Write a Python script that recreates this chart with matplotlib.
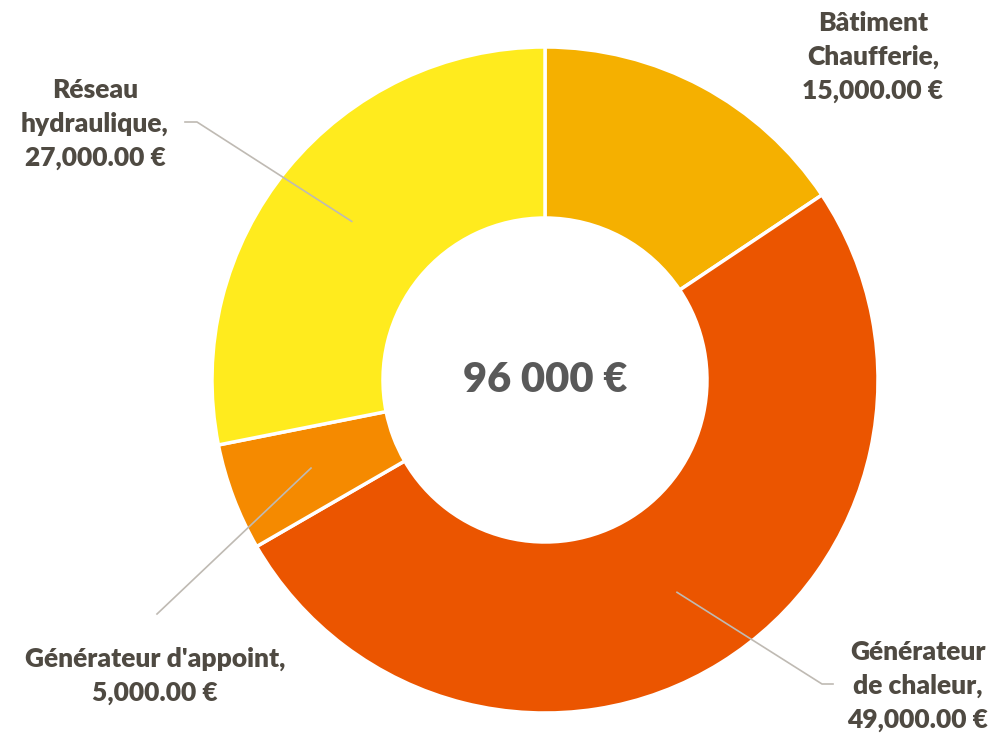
import numpy as np
import matplotlib.pyplot as plt

# données
categories = ['Bâtiment\nChaufferie', 'Générateur\nde chaleur', "Générateur d'appoint", 'Réseau\nhydraulique']
values = [15000, 49000, 5000, 27000]
colors = ['#F5B000', '#EB5500', '#F58A00', '#FFEB1E']
center_label = '96 000 €'

plt.rcParams['font.family'] = ['Lato', 'DejaVu Sans']

text_color = '#4F4A42'
line_color = '#BFBAB3'

fig = plt.figure(figsize=(9.94, 7.36), dpi=100)
ax = fig.add_axes([0, 0, 1, 1])

cx, cy = 545, 736 - 380
r_out = 333
r_in = 162

wedges, _ = ax.pie(values, colors=colors, startangle=90, counterclock=False,
                   radius=r_out, center=(cx, cy), frame=True,
                   wedgeprops={'width': r_out - r_in, 'edgecolor': 'white', 'linewidth': 2.5})
ax.set_xlim(0, 994)
ax.set_ylim(0, 736)
ax.set_aspect('equal')
ax.axis('off')

def fmt(v):
    return f'{v:,.2f} €'

# position des étiquettes (centre du bloc de texte, en pixels depuis le haut)
label_pos = [(873, 57), (918, 686), (155, 676), (95, 124)]
# coude de la ligne de rappel (None = pas de ligne)
elbows = [None, ((822, 684), (833, 684)), ((157, 614), None), ((197, 122), (185, 122))]

for w, cat, v, (lx, ly), elb in zip(wedges, categories, values, label_pos, elbows):
    ax.text(lx, 736 - ly, f'{cat},\n{fmt(v)}', ha='center', va='center',
            fontsize=19, fontweight='heavy', color=text_color, linespacing=1.48)
    if elb is None:
        continue
    mid = np.deg2rad((w.theta1 + w.theta2) / 2)
    ax_, ay_ = cx + 250 * np.cos(mid), cy + 250 * np.sin(mid)
    (ex, ey), end = elb
    xs = [ax_, ex]
    ys = [ay_, 736 - ey]
    if end is not None:
        xs.append(end[0])
        ys.append(736 - end[1])
    ax.plot(xs, ys, color=line_color, linewidth=1.2)

ax.text(cx, cy, center_label, ha='center', va='center', fontsize=30,
        fontweight='heavy', color='#595959')

fig.savefig('out.png', dpi=100)
